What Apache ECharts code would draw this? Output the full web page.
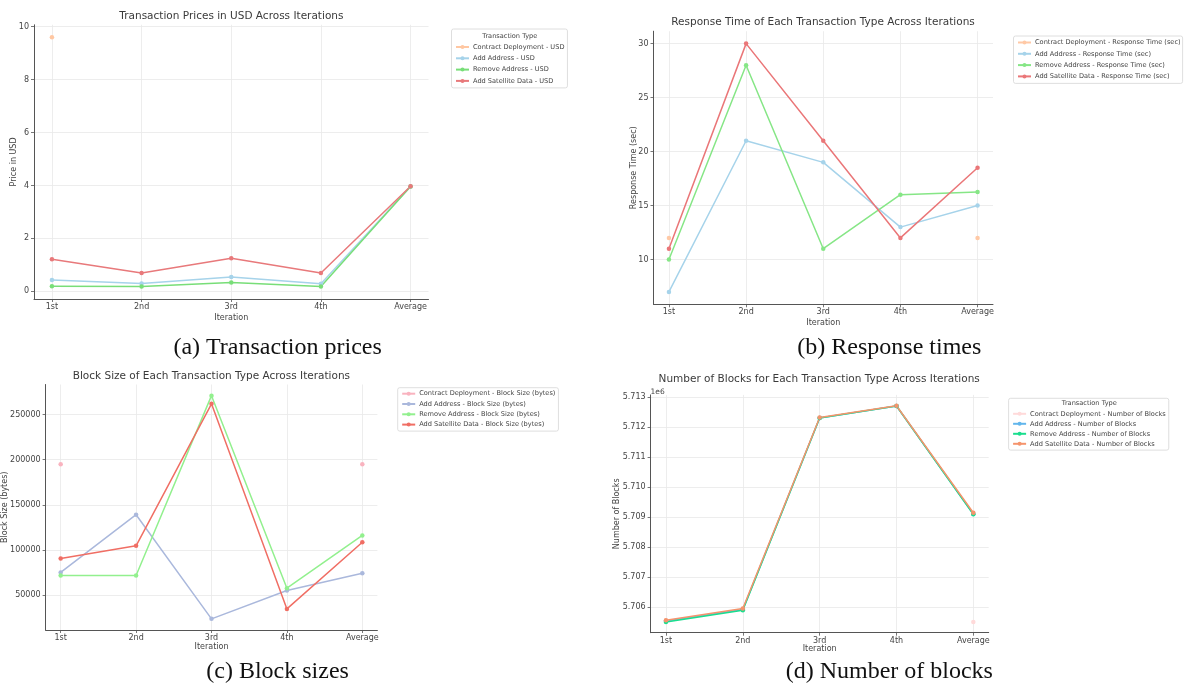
<!DOCTYPE html>
<html>
<head>
<meta charset="utf-8">
<script src="https://cdn.jsdelivr.net/npm/echarts@6/dist/echarts.min.js"></script>
<style>
  html, body { margin: 0; padding: 0; background: #ffffff; }
  #chart { width: 1184px; height: 684px; }
</style>
</head>
<body>
<div id="chart"></div>
<script>
// ---------------- DATA ----------------
const iterations = ['1st', '2nd', '3rd', '4th', 'Average'];

// (a) Transaction prices in USD
const usdContract      = [9.6, null, null, null, null];
const usdAddAddress    = [0.43, 0.30, 0.54, 0.29, 3.96];
const usdRemoveAddress = [0.19, 0.18, 0.33, 0.18, 3.96];
const usdSatellite     = [1.21, 0.69, 1.25, 0.69, 3.97];
const usdTicks = [0, 2, 4, 6, 8, 10];

// (b) Response time (sec)
const rtContract      = [12, null, null, null, 12];
const rtAddAddress    = [7, 21, 19, 13, 15];
const rtRemoveAddress = [10, 28, 11, 16, 16.25];
const rtSatellite     = [11, 30, 21, 12, 18.5];
const rtTicks = [10, 15, 20, 25, 30];

// (c) Block size (bytes)
const bsContract      = [195000, null, null, null, 195000];
const bsAddAddress    = [75000, 139000, 23500, 55000, 74000];
const bsRemoveAddress = [71500, 71500, 271000, 57500, 116000];
const bsSatellite     = [90500, 104500, 262000, 34500, 108500];
const bsTicks = [50000, 100000, 150000, 200000, 250000];

// (d) Number of blocks
const nbContract      = [5705550, null, null, null, 5705500];
const nbAddAddress    = [5705530, 5705910, 5712300, 5712700, 5709100];
const nbRemoveAddress = [5705500, 5705890, 5712300, 5712700, 5709090];
const nbSatellite     = [5705555, 5705945, 5712320, 5712710, 5709140];
const nbTicks = [5706000, 5707000, 5708000, 5709000, 5710000, 5711000, 5712000, 5713000];

const txTypes = ['Contract Deployment', 'Add Address', 'Remove Address', 'Add Satellite Data'];

// ---------------- STYLE / LAYOUT ----------------
const SANS = "'DejaVu Sans', 'Liberation Sans', sans-serif";
const SERIF = "'Liberation Serif', 'DejaVu Serif', serif";
const TXT = '#444444';
const AXIS = '#555555';
const GRIDC = '#e9e9e9';

const panels = [
  { title: 'Transaction Prices in USD Across Iterations', tx: 231.4, ty: 16,
    suffix: ' - USD', yName: 'Price in USD',
    data: [usdContract, usdAddAddress, usdRemoveAddress, usdSatellite], ticks: usdTicks,
    ymin: -0.29, ymax: 10.07, fmt: v => String(v),
    grid: { left: 34, top: 24.8, width: 394.5, height: 274.2 },
    yGap: 16, xGap: 15,
    colors: ['#ffc7a2', '#a6d3ea', '#78de78', '#e8797b'],
    legend: { left: 451.5, top: 29, padding: [14.5, 3, 3.5, 3.5], gap: 4.3 },
    legendTitle: { x: 509.8, y: 36 },
    caption: { text: '(a) Transaction prices', x: 277.6, y: 348 } },
  { title: 'Response Time of Each Transaction Type Across Iterations', tx: 823, ty: 22.7,
    suffix: ' - Response Time (sec)', yName: 'Response Time (sec)',
    data: [rtContract, rtAddAddress, rtRemoveAddress, rtSatellite], ticks: rtTicks,
    ymin: 5.85, ymax: 31.15, fmt: v => String(v),
    grid: { left: 653.5, top: 31.2, width: 339.5, height: 273.1 },
    yGap: 16, xGap: 14.4,
    colors: ['#ffc9a6', '#a6d3ea', '#86e686', '#ea7678'],
    legend: { left: 1013.5, top: 36, padding: [3, 2, 3.5, 3.5], gap: 4.3 },
    legendTitle: null,
    caption: { text: '(b) Response times', x: 889.3, y: 348 } },
  { title: 'Block Size of Each Transaction Type Across Iterations', tx: 211.4, ty: 376,
    suffix: ' - Block Size (bytes)', yName: 'Block Size (bytes)',
    data: [bsContract, bsAddAddress, bsRemoveAddress, bsSatellite], ticks: bsTicks,
    ymin: 11125, ymax: 283375, fmt: v => String(v),
    grid: { left: 45.1, top: 384.5, width: 332.3, height: 245.5 },
    yGap: 36.6, xGap: 12.7,
    colors: ['#f9b3bf', '#aab8dc', '#92f08e', '#f06e64'],
    legend: { left: 397.7, top: 387.7, padding: [2.5, 3, 3, 3.5], gap: 3.3 },
    legendTitle: null,
    caption: { text: '(c) Block sizes', x: 277.6, y: 671.7 } },
  { title: 'Number of Blocks for Each Transaction Type Across Iterations', tx: 819.2, ty: 379.3,
    suffix: ' - Number of Blocks', yName: 'Number of Blocks',
    data: [nbContract, nbAddAddress, nbRemoveAddress, nbSatellite], ticks: nbTicks,
    ymin: 5705140, ymax: 5713071, fmt: v => (v / 1e6).toFixed(3),
    grid: { left: 650.6, top: 394.9, width: 338.1, height: 237.8 },
    yGap: 29.3, xGap: 12,
    colors: ['#ffdada', '#62b6ec', '#1ade8e', '#f5946c'],
    legend: { left: 1008.6, top: 398.3, padding: [12, 3, 2.8, 3.5], gap: 3 },
    legendTitle: { x: 1089.3, y: 403.3 },
    caption: { text: '(d) Number of blocks', x: 889.3, y: 671.7 } }
];

const xTicks = iterations.map((c, k) => k);

const option = {
  backgroundColor: '#ffffff',
  animation: false,
  grid: [], xAxis: [], yAxis: [], series: [], legend: [], graphic: []
};

panels.forEach((p, i) => {
  option.grid.push(Object.assign({ containLabel: false, show: false }, p.grid));
  option.xAxis.push({
    type: 'value', gridIndex: i, min: -0.2, max: 4.2, position: 'bottom',
    name: 'Iteration', nameLocation: 'middle', nameGap: p.xGap, nameMoveOverlap: false,
    nameTextStyle: { fontSize: 8, color: TXT, fontFamily: SANS },
    axisLine: { show: true, onZero: false, lineStyle: { color: AXIS, width: 1 } },
    axisTick: { show: true, length: 3, customValues: xTicks, lineStyle: { color: AXIS, width: 0.8 } },
    axisLabel: { customValues: xTicks, formatter: v => iterations[Math.round(v)], fontSize: 8, margin: 4, color: TXT, fontFamily: SANS },
    splitLine: { show: true, lineStyle: { color: GRIDC, width: 0.8 } }
  });
  option.yAxis.push({
    type: 'value', gridIndex: i, min: p.ymin, max: p.ymax, position: 'left',
    name: p.yName, nameLocation: 'middle', nameGap: p.yGap, nameMoveOverlap: false,
    nameTextStyle: { fontSize: 8, color: TXT, fontFamily: SANS },
    axisLine: { show: true, onZero: false, lineStyle: { color: AXIS, width: 1 } },
    axisTick: { show: true, length: 3, customValues: p.ticks, lineStyle: { color: AXIS, width: 0.8 } },
    axisLabel: { customValues: p.ticks, formatter: p.fmt, fontSize: 8, margin: 5, color: TXT, fontFamily: SANS },
    splitLine: { show: true, lineStyle: { color: GRIDC, width: 0.8 } }
  });
  const names = txTypes.map(t => t + p.suffix);
  p.data.forEach((arr, s) => {
    option.series.push({
      type: 'line', name: names[s], xAxisIndex: i, yAxisIndex: i,
      data: arr.map((v, k) => [k, v == null ? '-' : v]),
      symbol: 'circle', symbolSize: 4.5, showSymbol: true,
      lineStyle: { width: 1.5, color: p.colors[s] },
      itemStyle: { color: p.colors[s] },
      emphasis: { disabled: true }
    });
  });
  option.legend.push({
    data: names, orient: 'vertical', left: p.legend.left, top: p.legend.top,
    padding: p.legend.padding, itemGap: p.legend.gap, itemWidth: 13, itemHeight: 5,
    textStyle: { fontSize: 6.6, color: TXT, fontFamily: SANS, padding: [0, 0, 0, -1] },
    backgroundColor: '#ffffff', borderColor: '#d6d6d6', borderWidth: 0.8, borderRadius: 2,
    selectedMode: false
  });
  option.graphic.push({
    type: 'text', x: p.tx, y: p.ty, silent: true,
    style: { text: p.title, fill: '#3a3a3a', font: '10.5px ' + SANS, textAlign: 'center', textVerticalAlign: 'middle' }
  });
  if (p.legendTitle) {
    option.graphic.push({
      type: 'text', x: p.legendTitle.x, y: p.legendTitle.y, silent: true, z: 100,
      style: { text: 'Transaction Type', fill: TXT, font: '6.6px ' + SANS, textAlign: 'center', textVerticalAlign: 'middle' }
    });
  }
  option.graphic.push({
    type: 'text', x: p.caption.x, y: p.caption.y, silent: true,
    style: { text: p.caption.text, fill: '#111111', font: '24px ' + SERIF, textAlign: 'center', textVerticalAlign: 'middle' }
  });
});

// scientific offset label for panel (d)
option.graphic.push({
  type: 'text', x: 650.6, y: 391.7, silent: true,
  style: { text: '1e6', fill: TXT, font: '7.5px ' + SANS, textAlign: 'left', textVerticalAlign: 'middle' }
});

const chart = echarts.init(document.getElementById('chart'), null, { renderer: 'canvas' });
chart.setOption(option);
</script>
</body>
</html>
